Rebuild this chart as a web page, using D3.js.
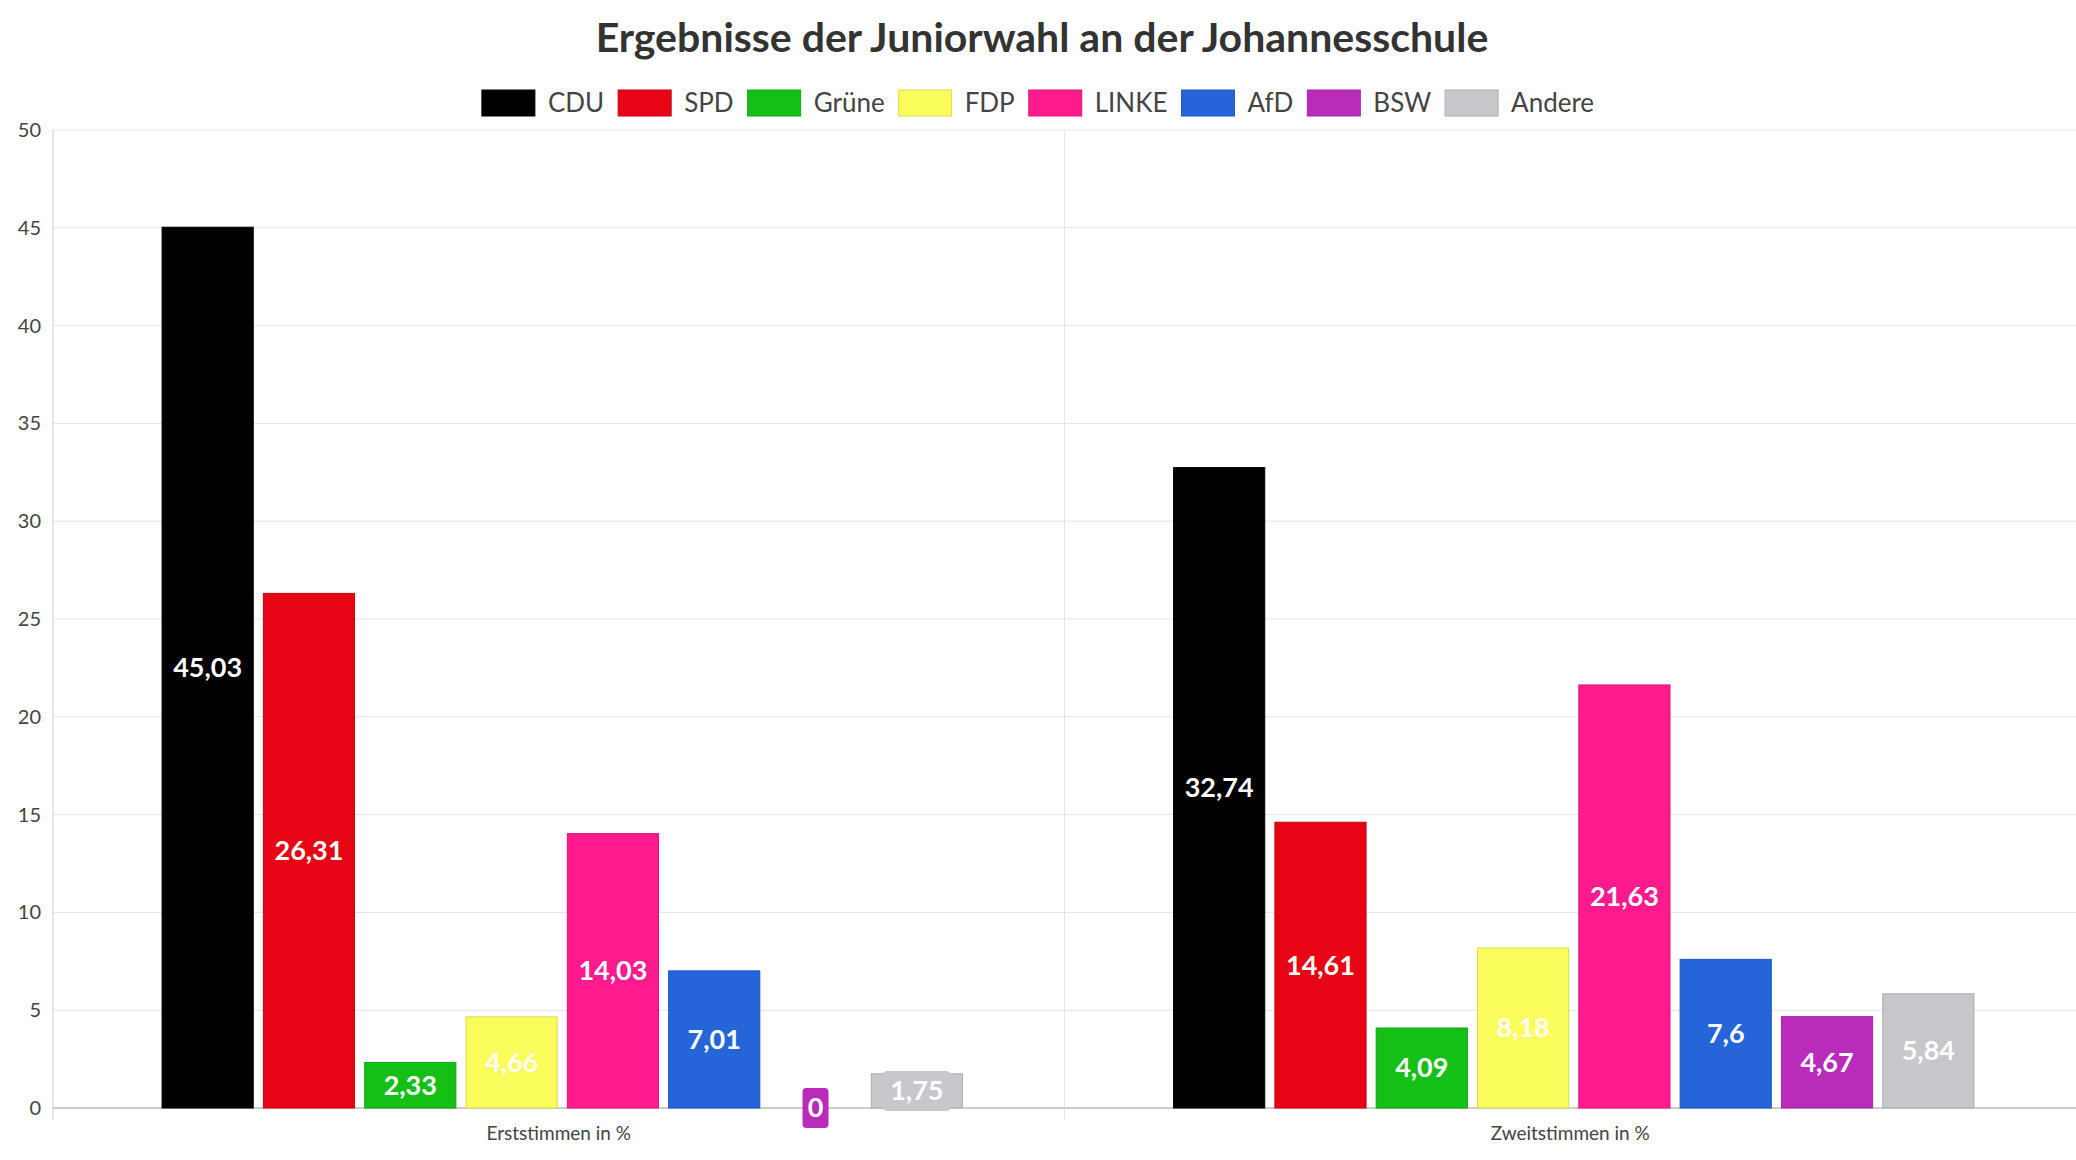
<!DOCTYPE html>
<html><head><meta charset="utf-8">
<script src="https://cdn.jsdelivr.net/npm/d3@7"></script>
<style>body{margin:0;background:#fff}svg{font-family:Lato,sans-serif}</style>
</head><body><div id="chart"></div>
<script>
const groups = ['Erststimmen in %', 'Zweitstimmen in %'];
const parties = ['CDU', 'SPD', 'Grüne', 'FDP', 'LINKE', 'AfD', 'BSW', 'Andere'];
const colors = ['#000000', '#e60415', '#14c016', '#fafd5c', '#ff1a8e', '#2664da', '#b92cb9', '#c8c8cc'];
const erst = [45.03, 26.31, 2.33, 4.66, 14.03, 7.01, 0, 1.75];
const zweit = [32.74, 14.61, 4.09, 8.18, 21.63, 7.6, 4.67, 5.84];
const yTicks = [0, 5, 10, 15, 20, 25, 30, 35, 40, 45, 50];

const W = 2076, H = 1160;
const m = {left: 53, right: 0, top: 130, bottom: 52};
const svg = d3.select('#chart').append('svg').attr('width', W).attr('height', H);

const x0 = d3.scaleBand().domain(groups).range([m.left, W - m.right]);
const x1 = d3.scaleBand().domain(parties).range([104, x0.bandwidth() - 97]).paddingInner(0.1).paddingOuter(0.05);
const y = d3.scaleLinear().domain([0, 50]).range([H - m.bottom, m.top]);

// grid
svg.append('g').selectAll('line').data(yTicks).join('line')
    .attr('x1', m.left).attr('x2', W).attr('y1', d => y(d)).attr('y2', d => y(d))
    .attr('stroke', '#e6e6e6');
svg.append('line').attr('x1', x0(groups[1])).attr('x2', x0(groups[1]))
    .attr('y1', m.top).attr('y2', H - m.bottom + 12).attr('stroke', '#e6e6e6');
svg.append('line').attr('x1', m.left).attr('x2', m.left)
    .attr('y1', m.top).attr('y2', H - m.bottom + 12).attr('stroke', '#ccc');
svg.append('line').attr('x1', m.left).attr('x2', W)
    .attr('y1', y(0)).attr('y2', y(0)).attr('stroke', '#ccc').attr('stroke-width', 2);

svg.append('g').selectAll('text').data(yTicks).join('text')
    .attr('x', m.left - 12).attr('y', d => y(d)).attr('dy', '0.35em')
    .attr('text-anchor', 'end').attr('font-size', 20).attr('fill', '#444').text(d => d);

svg.append('g').selectAll('text').data(groups).join('text')
    .attr('x', d => x0(d) + x0.bandwidth() / 2).attr('y', H - 20)
    .attr('text-anchor', 'middle').attr('font-size', 19).attr('fill', '#444').text(d => d);

const series = [erst, zweit];
const fmt = v => String(v).replace('.', ',');
groups.forEach((g, gi) => {
    const gg = svg.append('g').attr('transform', `translate(${x0(g)},0)`);
    const data = parties.map((p, i) => ({p, v: series[gi][i], c: colors[i]}));
    gg.selectAll('rect.bar').data(data).join('rect').attr('class', 'bar')
        .attr('x', d => x1(d.p)).attr('width', x1.bandwidth())
        .attr('y', d => y(d.v)).attr('height', d => y(0) - y(d.v))
        .attr('fill', d => d.c).attr('stroke', d => d3.color(d.c).darker(0.4)).attr('stroke-width', 1);
    const lab = gg.selectAll('g.lab').data(data).join('g').attr('class', 'lab')
        .attr('transform', d => `translate(${x1(d.p) + x1.bandwidth() / 2},${(y(0) + y(d.v)) / 2})`);
    lab.filter(d => y(0) - y(d.v) < 40).append('rect')
        .attr('x', d => d.v === 0 ? -13 : -x1.bandwidth() / 2 + 12).attr('width', d => d.v === 0 ? 26 : x1.bandwidth() - 24)
        .attr('y', -20).attr('height', 40).attr('rx', 4).attr('fill', d => d.c);
    lab.append('text').attr('text-anchor', 'middle').attr('dy', '0.35em')
        .attr('font-size', 27).attr('font-weight', 700).attr('fill', '#fff').text(d => fmt(d.v));
});

svg.append('text').attr('x', W / 2 + 4).attr('y', 52).attr('text-anchor', 'middle')
    .attr('font-size', 41).attr('font-weight', 700).attr('fill', '#333')
    .text('Ergebnisse der Juniorwahl an der Johannesschule');

// legend
const legend = svg.append('g');
let lx = 0;
parties.forEach((p, i) => {
    const it = legend.append('g').attr('transform', `translate(${lx},0)`);
    it.append('rect').attr('width', 53).attr('height', 26).attr('fill', colors[i])
        .attr('stroke', d3.color(colors[i]).darker(0.4));
    const t = it.append('text').attr('x', 66).attr('y', 13).attr('dy', '0.35em')
        .attr('font-size', 26).attr('fill', '#444').text(p);
    lx += 66 + t.node().getComputedTextLength() + 14;
});
legend.attr('transform', `translate(${(W - (lx - 14)) / 2},90)`);
</script></body></html>
